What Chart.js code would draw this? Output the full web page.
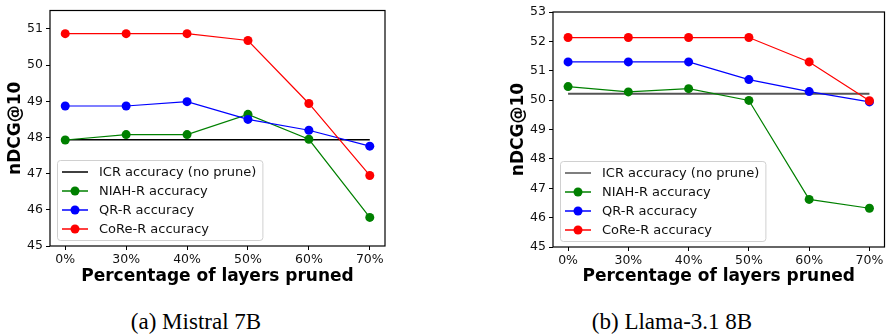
<!DOCTYPE html>
<html>
<head>
<meta charset="utf-8">
<script src="https://cdn.jsdelivr.net/npm/chart.js@4/dist/chart.umd.min.js"></script>
<style>
body { margin: 0; width: 889px; height: 335px; background: #fff; position: relative; overflow: hidden; }
canvas { position: absolute; top: 0; }
.cap { position: absolute; top: 310px; line-height: 1; font-family: "Liberation Serif", serif; font-size: 23px; color: #000; white-space: nowrap; transform: translateX(-50%); }
</style>
</head>
<body>
<canvas id="chartA" width="440" height="290" style="left:0"></canvas>
<canvas id="chartB" width="444" height="290" style="left:445px"></canvas>
<div class="cap" style="left:196px">(a) Mistral 7B</div>
<div class="cap" style="left:672px">(b) Llama-3.1 8B</div>
<script>
// x categories (pruned layers)
const xLabels = ['0%', '30%', '40%', '50%', '60%', '70%'];

// (a) Mistral 7B
const mistralIcr = [47.94, 47.94, 47.94, 47.94, 47.94, 47.94];
const mistralNiah = [47.93, 48.08, 48.08, 48.64, 47.95, 45.79];
const mistralQr = [48.87, 48.87, 48.99, 48.50, 48.20, 47.76];
const mistralCore = [50.87, 50.87, 50.87, 50.68, 48.94, 46.95];

// (b) Llama-3.1 8B
const llamaIcr = [50.22, 50.22, 50.22, 50.22, 50.22, 50.22];
const llamaNiah = [50.46, 50.28, 50.39, 49.99, 46.62, 46.32];
const llamaQr = [51.30, 51.30, 51.30, 50.70, 50.29, 49.94];
const llamaCore = [52.13, 52.13, 52.13, 52.13, 51.30, 49.98];

const seriesNames = ['ICR accuracy (no prune)', 'NIAH-R accuracy', 'QR-R accuracy', 'CoRe-R accuracy'];

function pts(arr) {
    return arr.map((v, i) => ({ x: i, y: v }));
}

// legend box in the lower left of the plot + frame around the axes
const boxPlugin = {
    id: 'boxPlugin',
    afterDatasetsDraw(chart) {
        const ctx = chart.ctx;
        const a = chart.chartArea;
        ctx.save();
        ctx.font = '13px "DejaVu Sans"';
        let tw = 0;
        chart.data.datasets.forEach(d => { tw = Math.max(tw, ctx.measureText(d.label).width); });
        const w = 42 + tw + 6, h = 80;
        const x0 = a.left + 7, y0 = a.bottom - 6 - h;
        ctx.beginPath();
        ctx.roundRect(x0 + 0.5, y0 + 0.5, w, h, 3);
        ctx.fillStyle = 'rgba(255,255,255,0.8)';
        ctx.fill();
        ctx.strokeStyle = '#d0d0d0';
        ctx.lineWidth = 1;
        ctx.stroke();
        chart.data.datasets.forEach((d, i) => {
            const cy = y0 + 12 + i * 19;
            ctx.strokeStyle = d.borderColor;
            ctx.lineWidth = 1.5;
            ctx.beginPath();
            ctx.moveTo(x0 + 5, cy);
            ctx.lineTo(x0 + 31, cy);
            ctx.stroke();
            if (d.pointRadius > 0) {
                ctx.fillStyle = d.backgroundColor;
                ctx.beginPath();
                ctx.arc(x0 + 18, cy, 4.5, 0, Math.PI * 2);
                ctx.fill();
            }
            ctx.fillStyle = '#111';
            ctx.textBaseline = 'middle';
            ctx.fillText(d.label, x0 + 42, cy + 1);
        });
        ctx.strokeStyle = '#000';
        ctx.lineWidth = 1.2;
        ctx.strokeRect(a.left, a.top, a.right - a.left, a.bottom - a.top);
        ctx.restore();
    }
};

function makeChart(id, series, icrColor, icrWidth, yMin, yMax, pad, bottom) {
    const colors = [icrColor, 'green', 'blue', 'red'];
    const datasets = series.map((s, i) => ({
        label: seriesNames[i],
        data: pts(s),
        borderColor: colors[i],
        backgroundColor: colors[i],
        borderWidth: i === 0 ? icrWidth : 1.2,
        pointRadius: i === 0 ? 0 : 4.5,
        pointBorderWidth: 0,
        order: 4 - i
    }));
    return new Chart(document.getElementById(id).getContext('2d'), {
        type: 'line',
        data: { datasets: datasets },
        plugins: [boxPlugin],
        options: {
            responsive: false,
            animation: false,
            layout: { padding: pad },
            plugins: { legend: { display: false }, tooltip: { enabled: false } },
            scales: {
                x: {
                    type: 'linear',
                    min: -0.25,
                    max: 5.25,
                    afterFit: s => { s.height = 290 - bottom; },
                    border: { display: false },
                    grid: { drawOnChartArea: false, tickLength: 4, color: '#000' },
                    ticks: {
                        stepSize: 1,
                        includeBounds: false,
                        padding: 2,
                        color: '#111',
                        font: { family: 'DejaVu Sans', size: 12.5 },
                        callback: v => xLabels[v]
                    },
                    title: {
                        display: true,
                        text: 'Percentage of layers pruned',
                        color: '#000',
                        padding: { top: 0, bottom: 3 },
                        font: { family: 'DejaVu Sans', size: 17, weight: 'bold' }
                    }
                },
                y: {
                    min: yMin,
                    max: yMax,
                    afterFit: s => { s.width = 50; },
                    border: { display: false },
                    grid: { drawOnChartArea: false, tickLength: 4, color: '#000' },
                    ticks: {
                        stepSize: 1,
                        includeBounds: false,
                        padding: 3,
                        color: '#111',
                        font: { family: 'DejaVu Sans', size: 12.5 }
                    },
                    title: {
                        display: true,
                        text: 'nDCG@10',
                        color: '#000',
                        padding: { top: 5, bottom: 0 },
                        font: { family: 'DejaVu Sans', size: 17, weight: 'bold' }
                    }
                }
            }
        }
    });
}

makeChart('chartA', [mistralIcr, mistralNiah, mistralQr, mistralCore], '#000', 1.5, 45, 51.51,
    { left: 0, top: 6, right: 55, bottom: 0 }, 246);
makeChart('chartB', [llamaIcr, llamaNiah, llamaQr, llamaCore], '#555', 2, 45, 53,
    { left: 58, top: 12, right: 2, bottom: 0 }, 247);
</script>
</body>
</html>
